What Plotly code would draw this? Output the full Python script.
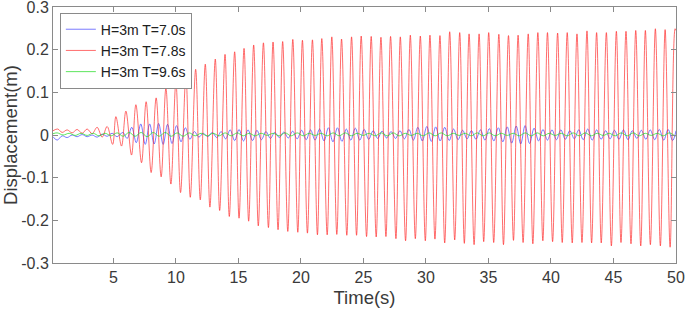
import plotly.graph_objects as go

# ---------------- data (extrema) ----------------
red_t = [0.17, 0.55, 0.9, 1.3, 1.7, 2.1, 2.5, 2.9, 3.3, 3.7, 4.1, 4.5,
         4.94, 5.2, 5.65, 6.0, 6.45, 6.8, 7.25, 7.62, 8.02, 8.42,
         8.82, 9.2, 9.6, 10.0, 10.37, 10.8, 11.15, 11.58, 11.95, 12.35,
         12.72, 13.15, 13.5, 13.93, 14.27, 14.7, 15.05, 15.45, 15.82, 16.22,
         16.59, 17.0, 17.4, 17.77, 18.17, 18.54, 18.95, 19.35, 19.75, 20.12,
         20.52, 20.92, 21.32, 21.67, 22.1, 22.47, 22.87, 23.25, 23.67, 24.05,
         24.45, 24.82, 25.25, 25.62, 26.02, 26.4, 26.8, 27.17, 27.6, 27.95,
         28.37, 28.75, 29.15, 29.55, 29.95, 30.32, 30.72, 31.12, 31.5, 31.9,
         32.3, 32.7, 33.07, 33.45, 33.85, 34.25, 34.62, 35.02, 35.42, 35.83,
         36.2, 36.6, 37.0, 37.37, 37.77, 38.18, 38.55, 38.95, 39.35, 39.72,
         40.13, 40.53, 40.9, 41.3, 41.7, 42.08, 42.48, 42.88, 43.25, 43.65,
         44.02, 44.43, 44.83, 45.23, 45.6, 46.0, 46.4, 46.78, 47.18, 47.55,
         47.95, 48.35, 48.75, 49.13, 49.53, 49.93, 50.0]
red_v = [0.010, 0.014, 0.006, 0.012, 0.005, 0.013, 0.004, 0.014, 0.003, 0.018, -0.005, 0.020,
         -0.022, 0.043, -0.026, 0.056, -0.047, 0.071, -0.065, 0.078, -0.088, 0.087,
         -0.098, 0.110, -0.115, 0.123, -0.135, 0.139, -0.146, 0.154, -0.152, 0.166,
         -0.169, 0.178, -0.177, 0.189, -0.191, 0.195, -0.195, 0.203, -0.202, 0.211,
         -0.213, 0.216, -0.217, 0.218, -0.222, 0.219, -0.226, 0.224, -0.228, 0.222,
         -0.230, 0.223, -0.234, 0.226, -0.234, 0.230, -0.233, 0.225, -0.235, 0.230,
         -0.235, 0.232, -0.238, 0.231, -0.239, 0.229, -0.238, 0.231, -0.243, 0.230,
         -0.248, 0.234, -0.243, 0.232, -0.248, 0.234, -0.244, 0.233, -0.253, 0.242,
         -0.246, 0.240, -0.254, 0.237, -0.257, 0.237, -0.250, 0.240, -0.252, 0.236,
         -0.257, 0.233, -0.247, 0.234, -0.252, 0.237, -0.255, 0.240, -0.248, 0.240,
         -0.250, 0.239, -0.252, 0.240, -0.253, 0.237, -0.252, 0.244, -0.253, 0.240,
         -0.253, 0.240, -0.260, 0.243, -0.252, 0.243, -0.255, 0.245, -0.260, 0.245,
         -0.257, 0.249, -0.260, 0.247, -0.263, 0.249, 0.245]

blue_t = [0.17, 0.5, 0.9, 1.3, 1.7, 2.1, 2.5, 2.9, 3.3, 3.7, 4.1, 4.5, 4.9, 5.3, 5.75, 6.1,
          6.47, 6.83, 7.19, 7.55, 7.90, 8.26, 8.62, 8.98, 9.33, 9.69,
          10.05, 10.41, 10.76, 11.12, 11.48, 11.84, 12.19, 12.55, 12.91, 13.27,
          13.62, 13.98, 14.34, 14.70, 15.05, 15.41, 15.77, 16.13, 16.48, 16.84,
          17.20, 17.56, 17.91, 18.27, 18.63, 18.99, 19.34, 19.70, 20.06, 20.42,
          20.77, 21.13, 21.49, 21.85, 22.20, 22.56, 22.92, 23.28, 23.63, 23.99,
          24.35, 24.71, 25.06, 25.42, 25.78, 26.14, 26.49, 26.85, 27.21, 27.57,
          27.92, 28.28, 28.64, 29.00, 29.35, 29.71, 30.07, 30.43, 30.78, 31.14,
          31.50, 31.86, 32.21, 32.57, 32.93, 33.29, 33.64, 34.00, 34.36, 34.72,
          35.07, 35.43, 35.79, 36.15, 36.50, 36.86, 37.22, 37.58, 37.93, 38.29,
          38.65, 39.01, 39.36, 39.72, 40.08, 40.44, 40.79, 41.15, 41.51, 41.87,
          42.22, 42.58, 42.94, 43.30, 43.65, 44.01, 44.37, 44.73, 45.08, 45.44,
          45.80, 46.16, 46.51, 46.87, 47.23, 47.59, 47.94, 48.30, 48.66, 49.02,
          49.37, 49.73, 50.0]
blue_v = [-0.004, -0.012, -0.002, -0.006, 0.000, -0.004, 0.001, -0.004, 0.000, -0.005, 0.002, -0.003, 0.004, -0.004, 0.006, -0.008,
          0.018, -0.018, 0.026, -0.022, 0.026, -0.021, 0.027, -0.022, 0.025, -0.020,
          0.022, -0.016, 0.017, -0.010, 0.008, -0.005, 0.004, -0.004, 0.006, -0.006,
          0.008, -0.009, 0.012, -0.013, 0.013, -0.014, 0.012, -0.013, 0.011, -0.011,
          0.008, -0.008, 0.006, -0.006, 0.007, -0.007, 0.009, -0.009, 0.011, -0.011,
          0.012, -0.012, 0.014, -0.014, 0.017, -0.016, 0.017, -0.015, 0.014, -0.012,
          0.016, -0.012, 0.013, -0.010, 0.010, -0.008, 0.009, -0.007, 0.008, -0.008,
          0.010, -0.009, 0.013, -0.012, 0.018, -0.014, 0.020, -0.015, 0.019, -0.014,
          0.018, -0.013, 0.014, -0.011, 0.011, -0.009, 0.010, -0.010, 0.012, -0.012,
          0.015, -0.014, 0.017, -0.016, 0.019, -0.019, 0.021, -0.021, 0.022, -0.020,
          0.016, -0.014, 0.013, -0.012, 0.012, -0.011, 0.012, -0.010, 0.010, -0.009,
          0.012, -0.011, 0.014, -0.012, 0.012, -0.010, 0.010, -0.009, 0.011, -0.010,
          0.012, -0.011, 0.010, -0.008, 0.011, -0.010, 0.012, -0.011, 0.013, -0.012,
          0.013, -0.013, 0.010]

green_t = [0.17,
           0.50, 0.98, 1.46, 1.94, 2.42, 2.90, 3.38, 3.86, 4.34, 4.82,
           5.30, 5.78, 6.26, 6.74, 7.22, 7.70, 8.18, 8.66, 9.14, 9.62,
           10.10, 10.58, 11.06, 11.54, 12.02, 12.50, 12.98, 13.46, 13.94, 14.42,
           14.90, 15.38, 15.86, 16.34, 16.82, 17.30, 17.78, 18.26, 18.74, 19.22,
           19.70, 20.18, 20.66, 21.14, 21.62, 22.10, 22.58, 23.06, 23.54, 24.02,
           24.50, 24.98, 25.46, 25.94, 26.42, 26.90, 27.38, 27.86, 28.34, 28.82,
           29.30, 29.78, 30.26, 30.74, 31.22, 31.70, 32.18, 32.66, 33.14, 33.62,
           34.10, 34.58, 35.06, 35.54, 36.02, 36.50, 36.98, 37.46, 37.94, 38.42,
           38.90, 39.38, 39.86, 40.34, 40.82, 41.30, 41.78, 42.26, 42.74, 43.22,
           43.70, 44.18, 44.66, 45.14, 45.62, 46.10, 46.58, 47.06, 47.54, 48.02,
           48.50, 48.98, 49.46, 49.94, 50.0]
green_v = [0.003,
           0.005, 0.000, 0.004, -0.001, 0.004, -0.001, 0.004, -0.002, 0.004, -0.002,
           0.005, -0.003, 0.006, -0.003, 0.006, -0.004, 0.006, -0.003, 0.006, -0.003,
           0.005, -0.003, 0.005, -0.002, 0.004, -0.002, 0.004, -0.002, 0.005, -0.002,
           0.005, -0.002, 0.004, -0.002, 0.004, -0.001, 0.004, -0.002, 0.005, -0.002,
           0.005, -0.002, 0.004, -0.001, 0.004, -0.002, 0.005, -0.002, 0.005, -0.002,
           0.004, -0.001, 0.004, -0.002, 0.005, -0.002, 0.005, -0.002, 0.004, -0.001,
           0.004, -0.002, 0.005, -0.002, 0.005, -0.002, 0.004, -0.001, 0.004, -0.002,
           0.005, -0.002, 0.005, -0.002, 0.004, -0.001, 0.004, -0.002, 0.005, -0.002,
           0.005, -0.002, 0.004, -0.001, 0.004, -0.002, 0.005, -0.002, 0.005, -0.002,
           0.004, -0.001, 0.004, -0.002, 0.005, -0.002, 0.005, -0.002, 0.004, -0.001,
           0.004, -0.002, 0.005, -0.002, -0.001]

series_names = ["H=3m T=7.0s", "H=3m T=7.8s", "H=3m T=9.6s"]
x_tick_vals = [5, 10, 15, 20, 25, 30, 35, 40, 45, 50]
y_tick_vals = [-0.3, -0.2, -0.1, 0, 0.1, 0.2, 0.3]
y_tick_text = ["-0.3", "-0.2", "-0.1", "0", "0.1", "0.2", "0.3"]

# ---------------- figure ----------------
FONT = "Liberation Sans, Arial, Helvetica, sans-serif"
TXT = "#3a3a3a"
AX = "#8a8a8a"

fig = go.Figure()
fig.add_trace(go.Scatter(x=blue_t, y=blue_v, mode="lines", name=series_names[0],
                         line=dict(color="rgba(50,50,255,0.65)", width=1, shape="spline")))
fig.add_trace(go.Scatter(x=red_t, y=red_v, mode="lines", name=series_names[1],
                         line=dict(color="rgba(255,30,30,0.65)", width=1, shape="spline")))
fig.add_trace(go.Scatter(x=green_t, y=green_v, mode="lines", name=series_names[2],
                         line=dict(color="rgba(40,220,40,0.75)", width=1, shape="spline")))

fig.update_layout(
    width=685, height=314,
    margin=dict(l=53, r=9, t=7, b=51),
    paper_bgcolor="white", plot_bgcolor="white",
    font=dict(family=FONT, size=16, color=TXT),
    showlegend=True,
    legend=dict(x=0.011, y=0.978, xanchor="left", yanchor="top",
                bgcolor="white", bordercolor=AX, borderwidth=1,
                font=dict(family=FONT, size=14, color="#202020"),
                itemwidth=30, tracegroupgap=0),
)
fig.update_xaxes(range=[0.17, 50], tickvals=x_tick_vals, automargin=False,
                 ticklabeloverflow="allow",
                 showline=True, linecolor=AX, linewidth=1, mirror="ticks",
                 ticks="inside", ticklen=5, tickcolor=AX, showgrid=False, zeroline=False,
                 tickfont=dict(size=16, color=TXT),
                 title=dict(text="Time(s)", font=dict(size=18.5, color=TXT), standoff=5))
fig.update_yaxes(range=[-0.3, 0.3], tickvals=y_tick_vals, ticktext=y_tick_text, automargin=False,
                 ticklabeloverflow="allow",
                 showline=True, linecolor=AX, linewidth=1, mirror="ticks",
                 ticks="inside", ticklen=5, tickcolor=AX, showgrid=False, zeroline=False,
                 tickfont=dict(size=16, color=TXT),
                 title=dict(text="Displacement(m)", font=dict(size=18.5, color=TXT), standoff=1))

fig.write_html("out.html", config={"displayModeBar": False},
               post_script="document.body.style.margin='0';document.body.style.padding='0';")
